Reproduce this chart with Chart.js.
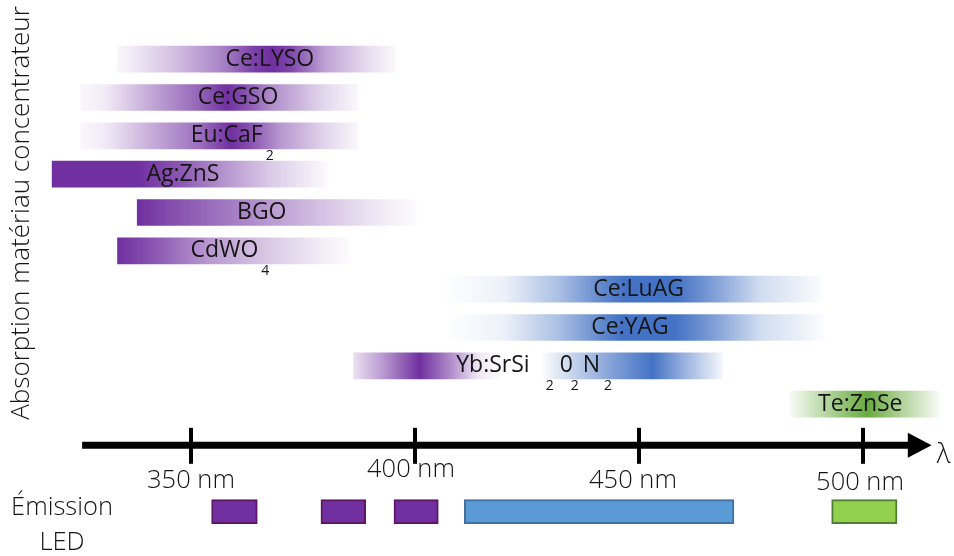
<!DOCTYPE html>
<html>
<head>
<meta charset="utf-8">
<script src="https://cdn.jsdelivr.net/npm/chart.js@4.4.1/dist/chart.umd.min.js"></script>
<style>
  html, body { margin: 0; padding: 0; background: #ffffff; }
  #c { display: block; }
</style>
</head>
<body>
<canvas id="c" width="954" height="556"></canvas>
<script>
// ---------------- DATA ----------------
const materials = ['Ce:LYSO', 'Ce:GSO', 'Eu:CaF2', 'Ag:ZnS', 'BGO', 'CdWO4', 'Ce:LuAG', 'Ce:YAG', 'Yb:SrSi2O2N2', 'Te:ZnSe'];
const absorptionStart = [333.6, 325.4, 325.4, 319.0, 338.0, 333.6, 406.2, 406.6, 386.3, 483.6];
const absorptionEnd   = [395.5, 387.2, 387.2, 380.6, 400.2, 385.5, 490.8, 491.2, 468.7, 517.0];
// absorption strength along each band: [wavelength nm, relative intensity 0..1, family 0=violet 1=bleu 2=vert]
const absorptionProfiles = [
  [[333.6,0.04,0],[337,0.1,0],[346,0.3,0],[357,0.6,0],[364,0.92,0],[368,1,0],[372,0.9,0],[380,0.45,0],[390,0.15,0],[395.5,0.04,0]],
  [[325.4,0.04,0],[331,0.1,0],[342,0.45,0],[352,0.75,0],[358,1,0],[362,0.85,0],[368,0.55,0],[379.5,0.2,0],[387.2,0.04,0]],
  [[325.4,0.04,0],[331,0.1,0],[342,0.42,0],[352,0.7,0],[359,1,0],[363,0.85,0],[370,0.5,0],[380,0.2,0],[387.2,0.04,0]],
  [[319,1,0],[338,1,0],[348,0.8,0],[358,0.5,0],[368,0.25,0],[376,0.1,0],[380.6,0.02,0]],
  [[338,1,0],[346,0.85,0],[361,0.6,0],[376,0.35,0],[390.6,0.12,0],[400.2,0.02,0]],
  [[333.6,1,0],[342.4,0.8,0],[353.6,0.5,0],[368,0.25,0],[379.5,0.08,0],[385.5,0.02,0]],
  [[406.2,0,1],[420,0.1,1],[432,0.45,1],[442,0.85,1],[447,1,1],[458,1,1],[465,0.75,1],[477,0.25,1],[490.8,0.02,1]],
  [[406.6,0,1],[420,0.1,1],[432,0.45,1],[442,0.85,1],[446,1,1],[458,1,1],[465,0.75,1],[477,0.25,1],[491.2,0.02,1]],
  [[386.3,0.15,0],[393,0.5,0],[401,1,0],[408,0.55,0],[414,0.12,0],[420,0,0],[428,0,1],[435,0.3,1],[445,0.7,1],[453,1,1],[460,0.55,1],[468.7,0.05,1]],
  [[483.6,0.05,2],[492,0.5,2],[501,1,2],[509,0.5,2],[517,0.05,2]]
];
const ledStart  = [354.6, 379.0, 395.3, 411.0, 493.0];
const ledEnd    = [364.8, 389.0, 405.2, 471.2, 507.6];
const ledFamily = [0, 0, 0, 1, 2];
const tickValues = [350, 400, 450, 500];
const tickLabels = ['350 nm', '400 nm', '450 nm', '500 nm'];

// ---------------- STYLE ----------------
const FONT = '"Open Sans", "Noto Sans", sans-serif';
const TEXT = '#151515';
const peakRGB = [[112, 48, 160], [68, 114, 196], [104, 170, 62]];
const ledFill = ['#7030A0', '#5B9BD5', '#92D050'];
const ledBorder = ['#5E1766', '#41719C', '#507E32'];
// [text, isSubscript, gapBefore, gapAfter]
const labelParts = [
  [['Ce:LYSO', 0, 0, 0]],
  [['Ce:GSO', 0, 0, 0]],
  [['Eu:CaF', 0, 0, 0], ['2', 1, 3, 0]],
  [['Ag:ZnS', 0, 0, 0]],
  [['BGO', 0, 0, 0]],
  [['CdWO', 0, 0, 0], ['4', 1, 3, 0]],
  [['Ce:LuAG', 0, 0, 0]],
  [['Ce:YAG', 0, 0, 0]],
  [['Yb:SrSi', 0, 0, 0], ['2', 1, 16, 6], ['0', 0, 0, 0], ['2', 1, -2, 4], ['N', 0, 0, 0], ['2', 1, 4, 0]],
  [['Te:ZnSe', 0, 0, 0]]
];
const labelAnchorNm = [367.6, 360.5, 359.2, 348.2, 365.8, 358.7, 449.9, 448.0, 426.6, 499.4];
const MAIN_FONT = `400 23px ${FONT}`;
const SUB_FONT = `400 14px ${FONT}`;

function mixWhite(rgb, t) {
  const r = Math.round(255 + (rgb[0] - 255) * t);
  const g = Math.round(255 + (rgb[1] - 255) * t);
  const b = Math.round(255 + (rgb[2] - 255) * t);
  return `rgb(${r},${g},${b})`;
}

function bandGradient(context) {
  const chart = context.chart;
  if (!chart.chartArea) return 'rgba(0,0,0,0)';
  const i = context.dataIndex;
  const xs = chart.scales.x;
  const x0 = xs.getPixelForValue(absorptionStart[i]);
  const x1 = xs.getPixelForValue(absorptionEnd[i]);
  const g = chart.ctx.createLinearGradient(x0, 0, x1, 0);
  for (const [nm, t, fam] of absorptionProfiles[i]) {
    const p = Math.min(1, Math.max(0, (xs.getPixelForValue(nm) - x0) / (x1 - x0)));
    g.addColorStop(p, mixWhite(peakRGB[fam], t));
  }
  return g;
}

const diagramPlugin = {
  id: 'diagram',
  afterDatasetsDraw(chart) {
    const c = chart.ctx;
    const xs = chart.scales.x;
    const yLed = chart.scales.yLed;
    c.save();
    c.fillStyle = TEXT;

    // labels inside absorption bands
    const meta = chart.getDatasetMeta(0);
    meta.data.forEach((bar, i) => {
      const parts = labelParts[i];
      const widths = parts.map(([t, s, g0, g1]) => {
        c.font = s ? SUB_FONT : MAIN_FONT;
        return g0 + c.measureText(t).width + g1;
      });
      const total = widths.reduce((a, b) => a + b, 0);
      let cx = xs.getPixelForValue(labelAnchorNm[i]) - total / 2;
      c.textBaseline = 'middle';
      c.textAlign = 'left';
      parts.forEach(([t, s, g0], k) => {
        if (s) {
          c.font = SUB_FONT;
          c.fillText(t, cx + g0, bar.y + 20);
        } else {
          c.font = MAIN_FONT;
          c.fillText(t, cx + g0, bar.y);
        }
        cx += widths[k];
      });
    });

    // wavelength axis arrow
    const ay = yLed.top + 22;
    const xStart = xs.getPixelForValue(325.7);
    const xHead = xs.getPixelForValue(510.0);
    const xTip = xs.getPixelForValue(515.3);
    c.strokeStyle = '#000';
    c.fillStyle = '#000';
    c.lineWidth = 7;
    c.beginPath();
    c.moveTo(xStart, ay);
    c.lineTo(xHead + 2, ay);
    c.stroke();
    c.beginPath();
    c.moveTo(xHead, ay - 12.5);
    c.lineTo(xTip, ay);
    c.lineTo(xHead, ay + 12.5);
    c.closePath();
    c.fill();
    c.lineWidth = 4;
    tickValues.forEach(v => {
      const px = xs.getPixelForValue(v);
      c.beginPath();
      c.moveTo(px, ay - 17.5);
      c.lineTo(px, ay + 18.5);
      c.stroke();
    });
    c.fillStyle = TEXT;
    c.font = `300 25.5px ${FONT}`;
    c.textAlign = 'center';
    c.textBaseline = 'middle';
    const dy = [35, 24, 35, 37];
    const dx = [0, -4, -6, -3];
    tickLabels.forEach((t, k) => {
      c.fillText(t, xs.getPixelForValue(tickValues[k]) + dx[k], ay + dy[k]);
    });
    c.font = `300 27px ${FONT}`;
    c.fillText('λ', xTip + 12, ay + 10);

    // left texts
    c.font = `300 25.5px ${FONT}`;
    const ledRow = yLed.getPixelForValue(1);
    c.fillText('Émission', 62, ledRow - 4);
    c.fillText('LED', 62, ledRow + 31);

    c.save();
    c.translate(22, 213);
    c.rotate(-Math.PI / 2);
    c.font = `300 26px ${FONT}`;
    c.fillText('Absorption matériau concentrateur', 0, 0);
    c.restore();
    c.restore();
  }
};

new Chart(document.getElementById('c'), {
  type: 'bar',
  data: {
    datasets: [
      {
        label: 'Absorption matériau concentrateur',
        data: materials.map((m, i) => ({ y: m, x: [absorptionStart[i], absorptionEnd[i]] })),
        yAxisID: 'y',
        backgroundColor: bandGradient,
        borderWidth: 0,
        grouped: false,
        barThickness: 26
      },
      {
        label: 'Émission LED',
        data: ledStart.map((s, i) => ({ y: 'LED', x: [s, ledEnd[i]] })),
        yAxisID: 'yLed',
        backgroundColor: ledFamily.map(f => ledFill[f]),
        borderColor: ledFamily.map(f => ledBorder[f]),
        borderWidth: 2,
        borderSkipped: false,
        grouped: false,
        barThickness: 24
      }
    ]
  },
  options: {
    indexAxis: 'y',
    responsive: false,
    devicePixelRatio: 1,
    animation: false,
    layout: { padding: { top: 40, bottom: 15, left: 0, right: 0 } },
    plugins: { legend: { display: false }, tooltip: { enabled: false } },
    scales: {
      x: { type: 'linear', min: 307.37, max: 520.31, display: false },
      y: { type: 'category', labels: materials, display: false, stack: 'rows', stackWeight: 10, weight: 2, offset: true },
      yLed: { type: 'category', labels: ['axe', 'LED'], display: false, stack: 'rows', stackWeight: 3.07, weight: 1, offset: true }
    }
  },
  plugins: [diagramPlugin]
});
</script>
</body>
</html>
